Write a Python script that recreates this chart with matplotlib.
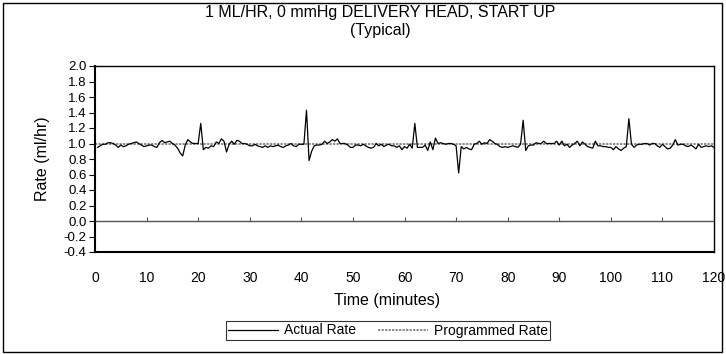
import numpy as np
import matplotlib
matplotlib.use("Agg")
import matplotlib.pyplot as plt
from matplotlib.patches import Rectangle

plt.rcParams['font.family'] = ['Liberation Sans', 'DejaVu Sans']

# time in minutes, one reading every 30 seconds
tiempo = np.arange(1, 241) * 0.5

# actual rate (ml/hr)
actual_rate = [
    0.95, 0.97, 0.99, 0.99, 1.01, 1.01, 1.00, 0.98, 0.95, 0.98,
    0.96, 0.97, 0.99, 1.00, 1.01, 1.02, 1.00, 0.98, 0.96, 0.97,
    0.98, 0.98, 0.96, 0.95, 1.01, 1.04, 1.01, 1.02, 1.03, 1.00,
    0.98, 0.94, 0.88, 0.84, 0.98, 1.05, 1.02, 1.00, 1.00, 1.00,
    1.26, 0.92, 0.95, 0.94, 0.97, 0.96, 1.02, 1.00, 1.06, 1.03,
    0.89, 0.99, 1.03, 0.99, 1.04, 1.03, 1.00, 1.00, 0.99, 0.97,
    0.97, 0.99, 0.97, 0.96, 0.95, 0.97, 0.95, 0.97, 0.96, 0.97,
    0.98, 0.96, 0.95, 0.97, 0.98, 1.00, 0.97, 0.96,
    0.99, 0.99, 0.99, 1.43, 0.78, 0.90, 0.97, 0.98, 0.98, 0.99,
    1.03, 1.00, 1.02, 1.05, 1.03, 1.06, 1.00, 1.00, 1.00, 0.98,
    0.95, 0.95, 0.98, 0.98, 0.97, 0.99, 0.97, 0.95, 0.94, 0.95,
    1.00, 0.97, 0.99, 0.96, 0.98, 0.99, 0.97, 0.97, 0.95, 0.97,
    0.92, 0.96,
    0.94, 0.99, 0.94, 1.26, 0.95, 0.95, 0.95, 0.98, 0.91, 1.02,
    0.92, 1.07, 1.00, 1.01, 1.00, 0.99, 1.00, 1.00, 0.99, 0.97,
    0.62, 0.96, 0.93, 0.95, 0.93, 0.92, 0.99, 1.00, 1.03, 0.99,
    1.01, 1.00, 1.05, 1.03, 1.00, 0.99, 0.96, 0.95, 0.96,
    0.95, 0.96, 0.97, 0.96, 0.95, 0.99, 1.30, 0.91, 0.97, 0.98,
    0.98, 1.01, 1.00, 1.00, 1.03, 1.00, 1.00, 1.00, 1.00, 1.03,
    0.98, 1.03, 0.97, 0.99, 0.95, 0.98, 1.00, 1.03, 0.97, 1.02,
    0.99, 0.96, 0.95, 0.94, 1.03, 0.97, 0.97, 0.96, 0.96, 0.95,
    0.95, 0.92, 0.96, 0.93, 0.91, 0.94, 0.96, 1.32, 0.99, 0.95,
    0.98, 0.99, 0.99, 1.00, 1.00, 0.98, 1.00, 1.00, 0.97, 0.95,
    0.99, 0.96, 0.93, 0.94, 0.98, 1.05, 0.98, 0.99, 0.99, 0.97,
    0.96, 0.98, 0.96, 0.93, 0.99, 0.95, 0.96, 0.97, 0.96, 0.97,
    0.95,
]

# programmed rate (ml/hr)
prog_tiempo = [0, 120]
prog_rate = [1.0, 1.0]

x_ticks = list(range(0, 121, 10))
y_ticks = [round(v, 1) for v in np.arange(-0.4, 2.01, 0.2)]

fig = plt.figure(figsize=(7.26, 3.54), dpi=100)
ax = fig.add_axes([95 / 726, 1 - 252 / 354, (714 - 95) / 726, (252 - 66) / 354])

ax.plot(prog_tiempo, prog_rate, color='#8c8c8c', linewidth=1.4,
        linestyle=(0, (1.2, 0.6)), label='Programmed Rate', zorder=2)
ax.plot(tiempo, actual_rate, color='black', linewidth=0.9,
        label='Actual Rate', zorder=3)

ax.set_xlim(0, 120)
ax.set_ylim(-0.4, 2.0)
ax.set_yticks(y_ticks)
ax.set_yticklabels([f'{v:.1f}' for v in y_ticks], fontsize=9.5)
ax.set_xticks(x_ticks)
ax.set_xticklabels([str(v) for v in x_ticks], fontsize=10)
ax.tick_params(axis='x', length=0, pad=14)
ax.tick_params(axis='y', direction='out', length=4, width=0.8, pad=2)

for s in ['left', 'bottom']:
    ax.spines[s].set_linewidth(1.5)
for s in ['top', 'right']:
    ax.spines[s].set_linewidth(1.0)

# eje horizontal en cero con sus marcas
sec = ax.secondary_xaxis(0.4 / 2.4)
sec.set_xticks(x_ticks)
sec.set_xticklabels([])
sec.tick_params(direction='in', length=3, width=0.8, color='#555555')
sec.spines['bottom'].set_color('#555555')
sec.spines['bottom'].set_linewidth(1.0)

fig.text(42 / 726, 1 - 159 / 354, 'Rate (ml/hr)', rotation=90,
         ha='center', va='center', fontsize=11.5)
fig.text(387 / 726, 1 - 301 / 354, 'Time (minutes)', ha='center',
         va='center', fontsize=11.5)
fig.text(380 / 726, 1 - 13 / 354, '1 ML/HR, 0 mmHg DELIVERY HEAD, START UP',
         ha='center', va='center', fontsize=11.5)
fig.text(380 / 726, 1 - 30 / 354, '(Typical)', ha='center', va='center',
         fontsize=11.5)

h, l = ax.get_legend_handles_labels()
leg = fig.legend(h[::-1], l[::-1], loc='center', ncol=2,
                 bbox_to_anchor=(388 / 726, 1 - 330.5 / 354), fontsize=10,
                 frameon=True, fancybox=False, edgecolor='black',
                 handlelength=3.6, handletextpad=0.4, columnspacing=1.6,
                 borderpad=0.2, borderaxespad=0)
leg.get_frame().set_linewidth(0.8)

fig.patches.append(Rectangle((3 / 726, 2 / 354), 719 / 726, 349 / 354,
                             transform=fig.transFigure, fill=False,
                             edgecolor='black', linewidth=1.0))

fig.savefig('out.png', dpi=100)
